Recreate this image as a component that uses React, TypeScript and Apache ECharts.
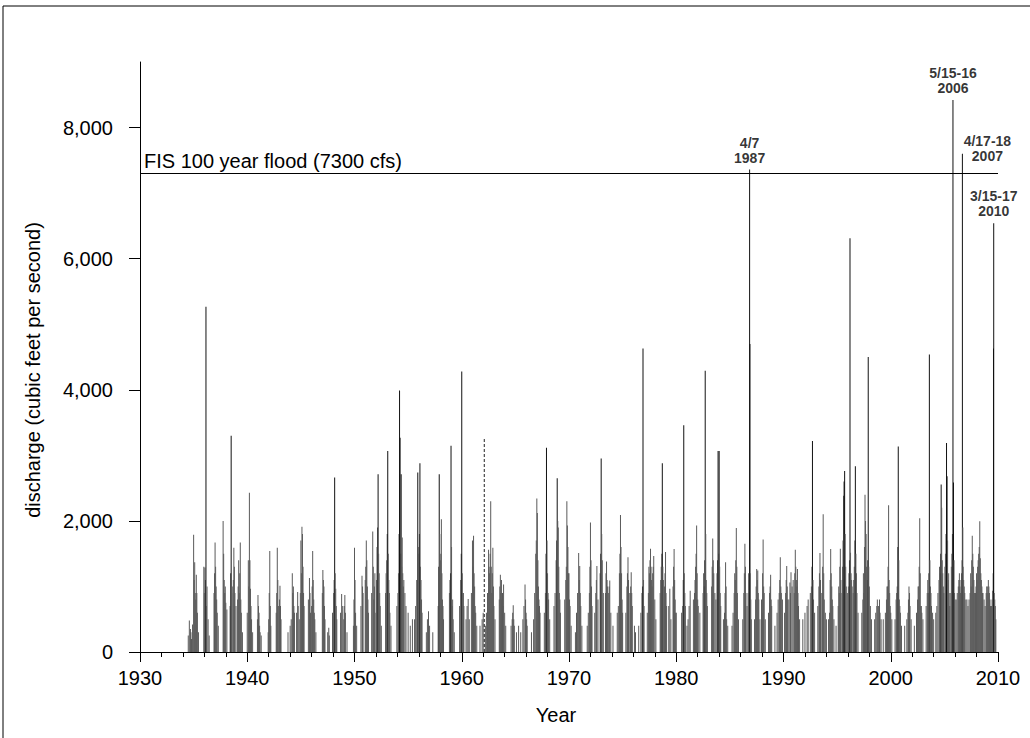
import React, { useEffect, useRef } from "react";
import * as echarts from "echarts";

// Daily discharge peaks: [year (as plotted), cfs]
const flows1930s: number[][] = [
  [1934.5, 250], [1934.6, 480], [1934.7, 350], [1934.75, 300], [1934.8, 200], [1934.9, 420],
  [1935.0, 1790], [1935.05, 1100], [1935.1, 1370], [1935.15, 900], [1935.2, 800], [1935.25, 1180], [1935.3, 900], [1935.35, 600], [1935.45, 300],
  [1935.95, 1300], [1936.0, 900], [1936.05, 1290], [1936.1, 1100], [1936.15, 5265], [1936.2, 700], [1936.25, 1000], [1936.35, 500], [1936.45, 250],
  [1936.9, 900], [1936.95, 1200], [1937.0, 1670], [1937.05, 1300], [1937.1, 1000], [1937.15, 800], [1937.2, 600], [1937.3, 400],
  [1937.75, 2000], [1937.8, 1500], [1937.85, 1100], [1937.9, 900], [1937.95, 1000], [1938.0, 750], [1938.1, 650],
  [1938.4, 700], [1938.45, 1200], [1938.5, 3300], [1938.55, 900], [1938.6, 1000], [1938.7, 1100], [1938.75, 1590], [1938.8, 1300], [1938.85, 900], [1938.95, 700],
  [1939.1, 800], [1939.15, 1000], [1939.2, 1400], [1939.25, 900], [1939.3, 1200], [1939.35, 1670], [1939.4, 800], [1939.45, 600], [1939.55, 300],
];
const flows1940s: number[][] = [
  [1940.0, 600], [1940.1, 1400], [1940.15, 1000], [1940.2, 2430], [1940.25, 1400], [1940.3, 965], [1940.35, 700], [1940.4, 500], [1940.5, 300],
  [1940.95, 500], [1941.0, 870], [1941.05, 700], [1941.1, 600], [1941.15, 400], [1941.2, 300], [1941.3, 250],
  [1941.95, 300], [1942.0, 500], [1942.05, 900], [1942.1, 1540], [1942.15, 700], [1942.2, 400],
  [1942.7, 600], [1942.75, 900], [1942.8, 1590], [1942.85, 1100], [1942.9, 700], [1943.0, 800], [1943.05, 1010], [1943.1, 700], [1943.15, 500],
  [1943.8, 300], [1944.0, 400], [1944.1, 500], [1944.2, 1200], [1944.25, 900], [1944.3, 1000], [1944.35, 700], [1944.4, 600],
  [1944.6, 600], [1944.7, 915], [1944.75, 700], [1944.85, 500],
  [1944.95, 900], [1945.0, 1700], [1945.05, 1200], [1945.1, 1910], [1945.15, 1800], [1945.2, 1300], [1945.25, 900], [1945.3, 700],
  [1945.7, 800], [1945.8, 1130], [1945.85, 900], [1945.9, 600],
  [1946.0, 700], [1946.05, 1000], [1946.1, 1540], [1946.15, 1100], [1946.2, 800], [1946.25, 600], [1946.3, 500], [1946.4, 300],
  [1947.0, 900], [1947.05, 1250], [1947.1, 1100], [1947.15, 1000], [1947.2, 700], [1947.25, 500], [1947.5, 300], [1947.6, 370], [1947.65, 250],
  [1947.95, 600], [1948.05, 900], [1948.1, 1100], [1948.15, 2660], [1948.2, 1200], [1948.25, 965], [1948.3, 700], [1948.35, 500],
  [1948.7, 600], [1948.8, 885], [1948.9, 700], [1949.0, 500], [1949.05, 700], [1949.1, 870], [1949.15, 600], [1949.3, 300],
];
const flows1950s: number[][] = [
  [1949.9, 400], [1949.95, 800], [1950.0, 1590], [1950.05, 1100], [1950.1, 600], [1950.2, 400],
  [1950.6, 700], [1950.7, 1165], [1950.75, 1000], [1950.8, 900],
  [1951.0, 1100], [1951.05, 1300], [1951.1, 1700], [1951.15, 1400], [1951.2, 1000], [1951.25, 800], [1951.3, 600],
  [1951.6, 900], [1951.7, 1840], [1951.75, 1300], [1951.8, 800], [1951.85, 1000], [1951.9, 1200], [1952.0, 600],
  [1952.05, 1100], [1952.1, 1600], [1952.15, 1900], [1952.2, 2710], [1952.25, 1500], [1952.3, 1200], [1952.35, 900], [1952.4, 700], [1952.5, 400],
  [1952.9, 900], [1952.95, 1200], [1953.0, 1400], [1953.05, 1800], [1953.1, 3065], [1953.15, 1500], [1953.2, 1100], [1953.25, 900], [1953.3, 600], [1953.4, 400],
  [1953.95, 700], [1954.05, 900], [1954.1, 1200], [1954.15, 1800], [1954.2, 3990], [1954.25, 3270], [1954.3, 1500], [1954.35, 2710],
  [1954.4, 1300], [1954.45, 1745], [1954.5, 1200], [1954.55, 1000], [1954.6, 1100], [1954.7, 900], [1954.8, 700],
  [1955.0, 600], [1955.2, 400], [1955.4, 500], [1955.6, 500], [1955.7, 700], [1955.8, 1100], [1955.9, 2740], [1955.95, 1600],
  [1956.0, 1500], [1956.05, 1800], [1956.1, 2880], [1956.15, 1300], [1956.2, 1100], [1956.25, 800], [1956.3, 600],
  [1956.7, 300], [1956.8, 500], [1956.9, 620], [1957.0, 400], [1957.3, 300],
  [1957.8, 700], [1957.85, 1300], [1957.9, 2710], [1957.95, 1800], [1958.0, 1400], [1958.05, 1500], [1958.1, 2025], [1958.15, 1200], [1958.2, 800], [1958.25, 700], [1958.3, 500],
  [1958.85, 900], [1958.9, 1100], [1958.95, 1200], [1959.0, 3145], [1959.05, 1600], [1959.1, 700], [1959.15, 800], [1959.2, 500], [1959.3, 300],
  [1959.8, 700], [1959.9, 1100], [1959.95, 1500],
];
const flows1960s: number[][] = [
  [1960.0, 4280], [1960.05, 1200], [1960.1, 900], [1960.15, 900], [1960.2, 700], [1960.4, 500], [1960.5, 700], [1960.6, 810], [1960.7, 500],
  [1960.9, 900], [1961.0, 1700], [1961.05, 1300], [1961.1, 1775], [1961.15, 1200], [1961.2, 1000], [1961.25, 700], [1961.3, 600], [1961.4, 400], [1961.7, 400],
  [1961.9, 500], [1962.0, 600], [1962.2, 400], [1962.3, 600], [1962.4, 900], [1962.5, 1560], [1962.55, 1300], [1962.6, 1200], [1962.65, 1500],
  [1962.7, 2300], [1962.75, 1300], [1962.8, 900], [1962.85, 1200], [1962.9, 1590], [1962.95, 1000], [1963.0, 700], [1963.1, 500],
  [1963.5, 800], [1963.55, 1000], [1963.6, 1180], [1963.65, 900], [1963.7, 1100], [1963.75, 800], [1963.8, 900], [1963.85, 700], [1963.9, 1030], [1964.0, 600], [1964.1, 400],
  [1964.6, 400], [1964.7, 500], [1964.75, 600], [1964.8, 715], [1964.85, 500], [1964.9, 400],
  [1965.1, 300], [1965.3, 400], [1965.5, 300], [1965.7, 500], [1965.8, 700], [1965.9, 1030], [1965.95, 800], [1966.0, 600], [1966.05, 500], [1966.1, 400],
  [1966.5, 300], [1966.7, 500], [1966.8, 900], [1966.9, 1500], [1966.95, 1700], [1967.0, 2340], [1967.05, 2120], [1967.1, 1400], [1967.15, 1000], [1967.2, 800], [1967.25, 700], [1967.3, 600],
  [1967.7, 600], [1967.8, 900], [1967.85, 1500], [1967.9, 3115], [1967.95, 1700], [1968.0, 1200], [1968.05, 900], [1968.1, 800], [1968.2, 500],
  [1968.6, 700], [1968.7, 900], [1968.8, 1400], [1968.85, 1700], [1968.9, 2650], [1968.95, 2000], [1969.0, 1900], [1969.05, 1300], [1969.1, 900], [1969.15, 800], [1969.2, 600],
  [1969.6, 800], [1969.7, 1100], [1969.75, 1300], [1969.8, 2300], [1969.85, 1930], [1969.9, 1600], [1969.95, 1200],
];
const flows1970s: number[][] = [
  [1970.0, 1200], [1970.05, 800], [1970.1, 700], [1970.2, 400],
  [1970.6, 300], [1970.7, 600], [1970.8, 900], [1970.9, 1510], [1970.95, 1100], [1971.0, 1310], [1971.05, 900], [1971.1, 700], [1971.2, 400],
  [1971.7, 400], [1971.8, 600], [1971.9, 900], [1971.95, 1300], [1972.0, 1975], [1972.05, 1400], [1972.1, 1000], [1972.15, 700],
  [1972.4, 600], [1972.5, 900], [1972.55, 1100], [1972.6, 1310], [1972.7, 800],
  [1972.9, 1200], [1972.95, 1500], [1973.0, 2950], [1973.05, 1800], [1973.1, 1400], [1973.2, 900],
  [1973.4, 900], [1973.45, 1200], [1973.5, 1380], [1973.55, 1100], [1973.6, 1000], [1973.7, 900], [1973.75, 1000], [1973.8, 1090], [1973.9, 600],
  [1974.1, 400], [1974.5, 600], [1974.6, 700], [1974.7, 1200], [1974.75, 1500], [1974.8, 2090], [1974.85, 1600], [1974.9, 1200], [1974.95, 800], [1975.0, 600],
  [1975.3, 600], [1975.4, 1000], [1975.45, 1200], [1975.5, 1445], [1975.55, 1100], [1975.6, 900], [1975.7, 900], [1975.75, 1000], [1975.8, 1215], [1975.85, 900], [1975.9, 700],
  [1976.1, 400], [1976.2, 300], [1976.5, 400], [1976.7, 600], [1976.8, 900], [1976.85, 1000], [1976.9, 4630], [1976.95, 1100], [1977.0, 700],
  [1977.3, 600], [1977.4, 900], [1977.45, 1300], [1977.5, 1200], [1977.55, 1400], [1977.6, 1575], [1977.65, 1300], [1977.7, 1100], [1977.75, 1000],
  [1977.8, 1200], [1977.85, 1300], [1977.9, 1465], [1978.0, 800], [1978.1, 500],
  [1978.5, 900], [1978.55, 1100], [1978.6, 1300], [1978.65, 1500], [1978.7, 2880], [1978.75, 1300], [1978.8, 1100], [1978.9, 1000], [1978.95, 1200],
  [1979.0, 1525], [1979.05, 900], [1979.1, 700], [1979.3, 700], [1979.4, 965],
  [1979.5, 500], [1979.7, 1000], [1979.75, 1300], [1979.8, 1570], [1979.85, 1100], [1979.9, 800], [1979.95, 600],
];
const flows1980s: number[][] = [
  [1980.0, 600], [1980.5, 600], [1980.6, 700], [1980.65, 1100], [1980.7, 3460], [1980.75, 1200], [1980.8, 900], [1980.85, 700],
  [1981.0, 400], [1981.1, 500], [1981.2, 700], [1981.3, 935],
  [1981.6, 800], [1981.7, 900], [1981.75, 1100], [1981.8, 1300], [1981.85, 1500], [1981.9, 1930], [1981.95, 1200], [1982.0, 800], [1982.05, 700], [1982.2, 600],
  [1982.5, 900], [1982.55, 1200], [1982.6, 1000], [1982.65, 1400], [1982.7, 4290], [1982.75, 1800], [1982.8, 1100], [1982.85, 900], [1982.9, 700],
  [1983.3, 1000], [1983.35, 1300], [1983.4, 1730], [1983.45, 1400], [1983.5, 1200], [1983.6, 900], [1983.7, 800],
  [1983.8, 1200], [1983.85, 1400], [1983.9, 3065], [1983.95, 1500], [1984.0, 3065], [1984.05, 1300], [1984.1, 900], [1984.15, 700],
  [1984.4, 500], [1984.5, 600], [1984.55, 900], [1984.6, 1370], [1984.65, 1000], [1984.7, 500], [1984.8, 400],
  [1985.2, 400], [1985.3, 600], [1985.4, 900], [1985.45, 1200], [1985.5, 1100], [1985.55, 1400], [1985.6, 1890], [1985.65, 1300], [1985.7, 900], [1985.8, 500],
  [1986.2, 500], [1986.3, 900], [1986.35, 1200], [1986.4, 1650], [1986.45, 1300], [1986.5, 900], [1986.6, 700], [1986.7, 900],
  [1986.75, 1200], [1986.8, 1100], [1986.84, 7360], [1986.87, 4700], [1986.9, 1200], [1986.95, 800], [1987.0, 500],
  [1987.3, 500], [1987.4, 800], [1987.45, 1000], [1987.5, 1265], [1987.55, 1100], [1987.6, 1245], [1987.65, 900], [1987.7, 800], [1987.8, 500],
  [1987.95, 800], [1988.0, 600], [1988.05, 1200], [1988.1, 1715], [1988.15, 1000], [1988.2, 900], [1988.3, 500],
  [1988.6, 600], [1988.7, 900], [1988.75, 1000], [1988.8, 1180], [1988.85, 800], [1988.9, 700],
  [1989.2, 400], [1989.4, 600], [1989.5, 800], [1989.6, 900], [1989.65, 1100], [1989.7, 1445], [1989.75, 1000], [1989.8, 900], [1989.9, 800],
];
const flows1990s: number[][] = [
  [1990.1, 600], [1990.2, 900], [1990.25, 1100], [1990.3, 1310], [1990.35, 1000], [1990.4, 800], [1990.5, 800],
  [1990.6, 1060], [1990.65, 900], [1990.7, 1215], [1990.8, 1000], [1990.9, 1100], [1991.0, 900], [1991.05, 1200],
  [1991.1, 1560], [1991.15, 1300], [1991.2, 1100], [1991.25, 1000], [1991.3, 1265], [1991.35, 900], [1991.4, 700], [1991.5, 500],
  [1991.8, 500], [1992.0, 600], [1992.2, 700], [1992.3, 800], [1992.5, 900], [1992.6, 1000], [1992.65, 1300], [1992.7, 3220], [1992.75, 1100], [1992.8, 800], [1992.9, 600],
  [1993.2, 700], [1993.3, 1000], [1993.35, 1200], [1993.4, 1510], [1993.45, 1100], [1993.5, 900], [1993.6, 900], [1993.65, 1300],
  [1993.7, 2100], [1993.75, 1200], [1993.8, 800], [1993.9, 600], [1994.0, 500],
  [1994.2, 500], [1994.3, 600], [1994.35, 1100], [1994.4, 1570], [1994.45, 1200], [1994.5, 1000], [1994.55, 800], [1994.6, 700], [1994.7, 500], [1994.9, 400],
  [1995.1, 700], [1995.15, 1000], [1995.2, 900], [1995.25, 1300], [1995.3, 1575], [1995.35, 1100], [1995.45, 900], [1995.5, 1300],
  [1995.55, 1700], [1995.6, 2385], [1995.65, 2600], [1995.7, 2760], [1995.75, 1800], [1995.8, 1300], [1995.85, 1000], [1995.95, 900],
  [1996.05, 1000], [1996.1, 1200], [1996.15, 1400], [1996.2, 6310], [1996.25, 1515], [1996.3, 1200], [1996.35, 1100], [1996.4, 1000],
  [1996.5, 900], [1996.55, 1100], [1996.6, 1300], [1996.65, 1700], [1996.7, 2835], [1996.75, 1500], [1996.8, 1200], [1996.85, 900], [1996.95, 600],
  [1997.3, 600], [1997.4, 800], [1997.45, 1200], [1997.5, 900], [1997.55, 1600], [1997.6, 2400], [1997.65, 2000], [1997.7, 1800],
  [1997.75, 1300], [1997.8, 1100], [1997.85, 1400], [1997.9, 4500], [1997.95, 1300], [1998.0, 1000], [1998.1, 700], [1998.2, 500],
  [1998.5, 500], [1998.6, 600], [1998.7, 700], [1998.75, 800], [1998.85, 700], [1998.95, 800], [1999.0, 600], [1999.1, 500], [1999.3, 500],
  [1999.5, 600], [1999.6, 800], [1999.65, 1000], [1999.7, 1000], [1999.75, 1300], [1999.8, 2240], [1999.85, 1100], [1999.9, 900], [1999.95, 700],
];
const flows2000s: number[][] = [
  [2000.0, 600], [2000.1, 500], [2000.4, 500], [2000.5, 800], [2000.55, 900], [2000.6, 1000], [2000.65, 1600], [2000.7, 3135],
  [2000.75, 1400], [2000.8, 800], [2000.85, 700], [2000.9, 600], [2001.0, 400],
  [2001.3, 400], [2001.5, 500], [2001.6, 600], [2001.65, 800], [2001.7, 1000], [2001.75, 900], [2001.8, 700], [2001.9, 500],
  [2002.2, 400], [2002.4, 600], [2002.5, 800], [2002.55, 1000], [2002.6, 1000], [2002.65, 1300], [2002.7, 2040], [2002.75, 1200],
  [2002.8, 700], [2002.85, 700], [2002.9, 600], [2003.0, 500],
  [2003.3, 700], [2003.4, 900], [2003.45, 1100], [2003.5, 900], [2003.55, 1200], [2003.6, 4540], [2003.65, 1400], [2003.7, 1000],
  [2003.75, 900], [2003.8, 700], [2003.9, 600], [2004.0, 500], [2004.2, 600],
  [2004.3, 700], [2004.4, 900], [2004.5, 1100], [2004.55, 1300], [2004.6, 1200], [2004.65, 1500], [2004.7, 2555], [2004.75, 2200],
  [2004.8, 1400], [2004.85, 1200], [2004.9, 1000], [2004.95, 900],
  [2005.05, 1300], [2005.1, 1500], [2005.15, 1800], [2005.2, 3190], [2005.25, 2680], [2005.3, 1700], [2005.35, 1100], [2005.4, 1200],
  [2005.45, 900], [2005.5, 700], [2005.6, 900], [2005.65, 1300], [2005.7, 1500], [2005.75, 1800], [2005.8, 8420], [2005.85, 2585],
  [2005.9, 1400], [2005.95, 900], [2006.0, 800], [2006.1, 800], [2006.2, 900], [2006.3, 1000], [2006.35, 1100], [2006.4, 1200],
  [2006.45, 1000], [2006.5, 900], [2006.55, 1100], [2006.6, 1200], [2006.65, 1400], [2006.68, 7600], [2006.72, 1900], [2006.75, 1300],
  [2006.8, 1100], [2006.85, 1000], [2006.9, 900], [2007.0, 800], [2007.1, 800],
  [2007.2, 700], [2007.3, 800], [2007.4, 900], [2007.45, 1200], [2007.5, 1000], [2007.55, 1400], [2007.6, 1775], [2007.65, 1500],
  [2007.7, 1300], [2007.75, 1100], [2007.8, 900], [2007.9, 900], [2007.95, 1000], [2008.0, 1200],
  [2008.05, 1100], [2008.1, 1300], [2008.15, 1400], [2008.2, 1500], [2008.25, 1600], [2008.3, 1995], [2008.35, 1430], [2008.4, 1200],
  [2008.45, 1100], [2008.5, 1000], [2008.55, 900], [2008.6, 900], [2008.7, 800], [2008.8, 700], [2008.9, 900],
  [2008.95, 1000], [2009.0, 1000], [2009.05, 900], [2009.1, 1100], [2009.15, 1000], [2009.2, 900], [2009.25, 800], [2009.3, 700],
  [2009.4, 700], [2009.45, 800], [2009.5, 935], [2009.55, 1200], [2009.58, 4630], [2009.6, 6540], [2009.65, 900],
  [2009.7, 800], [2009.75, 700], [2009.8, 500],
];

// Estimated (dashed) record
const dashedYears = [1962.1, 1962.1];
const dashedValues = [0, 3270];

// Flood reference
const floodLevel = 7300;
const floodLabel = "FIS 100 year flood (7300 cfs)";

// Annotated peaks
const peakYears = [1986.84, 2005.8, 2006.68, 2009.6];
const peakValues = [7360, 8420, 7600, 6540];
const peakTexts = ["4/7\n1987", "5/15-16\n2006", "4/17-18\n2007", "3/15-17\n2010"];

// Axes
const yTicks = [0, 2000, 4000, 6000, 8000];
const xMin = 1930;
const xMax = 2010;
const yMax = 9000;

const FONT = "Liberation Sans, Arial, Helvetica, sans-serif";

export default function App() {
  const ref = useRef<HTMLDivElement>(null);
  useEffect(() => {
    if (!ref.current) return;
    const chart = echarts.init(ref.current, undefined, { renderer: "svg" });
    const flows = [
      ...flows1930s, ...flows1940s, ...flows1950s, ...flows1960s,
      ...flows1970s, ...flows1980s, ...flows1990s, ...flows2000s,
    ];
    const peakOffsets: Record<number, number[]> = { 2: [25, 14] };
    chart.setOption({
      animation: false,
      backgroundColor: "#fff",
      grid: { left: 140, right: 32, top: 62, bottom: 86 },
      xAxis: {
        type: "value",
        min: xMin,
        max: xMax,
        interval: 10,
        axisLine: { lineStyle: { color: "#000", width: 1 } },
        axisTick: { show: true, inside: false, length: 10, lineStyle: { color: "#000" } },
        minorTick: { show: true, splitNumber: 5, length: 5, lineStyle: { color: "#000" } },
        splitLine: { show: false },
        minorSplitLine: { show: false },
        axisLabel: {
          color: "#000",
          fontSize: 20,
          fontFamily: FONT,
          margin: 16,
          formatter: (v: number) => String(v),
        },
      },
      yAxis: {
        type: "value",
        min: 0,
        max: yMax,
        axisLine: { show: true, lineStyle: { color: "#000", width: 1 } },
        axisTick: { show: true, inside: false, length: 11, customValues: yTicks, lineStyle: { color: "#000" } },
        splitLine: { show: false },
        axisLabel: {
          color: "#000",
          fontSize: 20,
          fontFamily: FONT,
          margin: 27,
          customValues: yTicks,
          formatter: (v: number) => v.toLocaleString("en-US"),
        },
      },
      series: [
        {
          type: "bar",
          data: flows,
          barWidth: 1,
          itemStyle: {
            color: (p: any) => (p.value[1] > 2500 ? "#111" : "#5a5a5a"),
          },
          markLine: {
            symbol: "none",
            silent: true,
            lineStyle: { color: "#000", width: 1, type: "solid" },
            label: {
              show: true,
              position: "insideStartTop",
              formatter: floodLabel,
              color: "#000",
              fontSize: 20,
              fontFamily: FONT,
              distance: [4, 2],
            },
            data: [{ yAxis: floodLevel }],
          },
        },
        {
          type: "line",
          data: dashedYears.map((x, i) => [x, dashedValues[i]]),
          symbol: "none",
          lineStyle: { color: "#222", width: 1, type: [3, 2] },
        },
        {
          type: "scatter",
          symbol: "circle",
          symbolSize: 1,
          itemStyle: { color: "rgba(0,0,0,0)" },
          z: 5,
          data: peakYears.map((x, i) => ({
            value: [x, peakValues[i]],
            label: {
              show: true,
              position: "top",
              distance: 4,
              offset: peakOffsets[i] || [0, 0],
              formatter: peakTexts[i],
              color: "#000",
              fontSize: 14,
              fontWeight: "bold",
              lineHeight: 15,
              fontFamily: FONT,
              align: "center",
            },
          })),
        },
      ],
      graphic: [
        {
          type: "rect",
          shape: { x: 3, y: 6, width: 1200, height: 900 },
          style: { fill: "none", stroke: "#000", lineWidth: 1 },
          silent: true,
        },
        {
          type: "text",
          x: 33,
          y: 370,
          rotation: Math.PI / 2,
          style: {
            text: "discharge (cubic feet per second)",
            fontSize: 20,
            fontFamily: FONT,
            fill: "#000",
            align: "center",
            verticalAlign: "middle",
          },
        },
        {
          type: "text",
          x: 556,
          y: 715,
          style: {
            text: "Year",
            fontSize: 20,
            fontFamily: FONT,
            fill: "#000",
            align: "center",
            verticalAlign: "middle",
          },
        },
      ],
    });
    return () => chart.dispose();
  }, []);
  return (
    <div
      ref={ref}
      style={{ position: "fixed", left: 0, top: 0, width: 1030, height: 738 }}
    />
  );
}
